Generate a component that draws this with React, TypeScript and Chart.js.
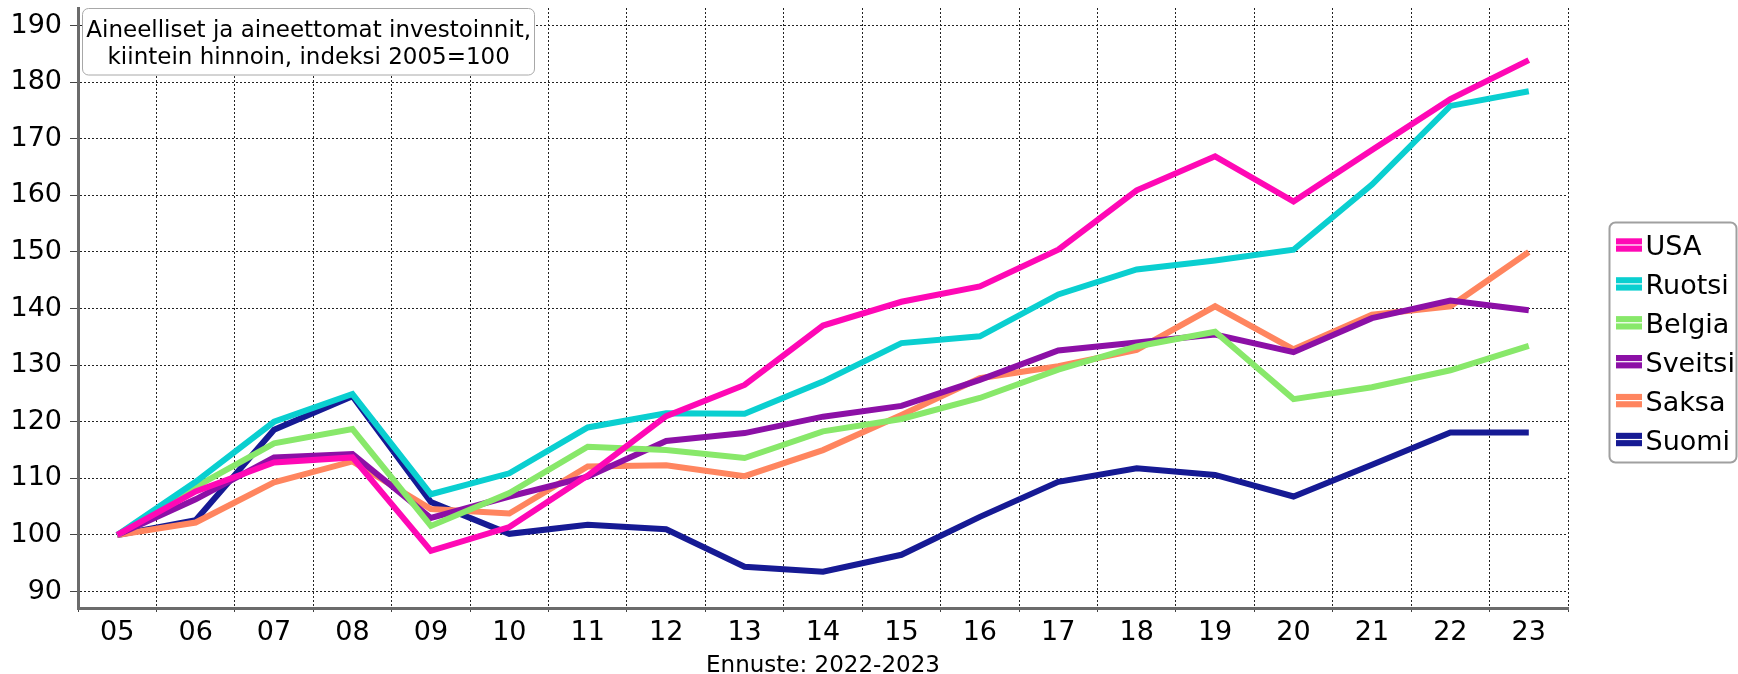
import React, { useEffect, useRef } from 'react';
import { Chart, registerables } from 'chart.js';

Chart.register(...registerables);

const years = ['05', '06', '07', '08', '09', '10', '11', '12', '13', '14', '15', '16', '17', '18', '19', '20', '21', '22', '23'];

const usa = [100, 107.7, 112.8, 113.7, 97.2, 101.4, 110.5, 121.0, 126.5, 137.0, 141.2, 143.9, 150.4, 160.9, 166.9, 158.9, 168.0, 177.0, 183.9];
const ruotsi = [100, 109.4, 120.0, 124.9, 107.2, 110.9, 119.0, 121.5, 121.4, 127.1, 133.9, 135.1, 142.5, 146.9, 148.5, 150.4, 161.9, 175.8, 178.4];
const belgia = [100, 108.5, 116.2, 118.7, 101.6, 107.4, 115.6, 115.0, 113.6, 118.3, 120.5, 124.2, 129.2, 133.3, 135.9, 124.0, 126.1, 129.1, 133.4];
const sveitsi = [100, 106.3, 113.7, 114.3, 103.0, 106.8, 110.3, 116.6, 118.0, 120.9, 122.8, 127.4, 132.6, 134.0, 135.4, 132.3, 138.3, 141.4, 139.7];
const saksa = [100, 102.2, 109.3, 113.0, 104.6, 103.8, 112.1, 112.3, 110.4, 115.0, 121.2, 127.7, 129.8, 132.7, 140.4, 132.8, 138.9, 140.4, 150.0];
const suomi = [100, 102.6, 118.6, 124.5, 105.8, 100.2, 101.8, 101.0, 94.4, 93.5, 96.5, 103.2, 109.4, 111.8, 110.6, 106.8, 112.4, 118.1, 118.1];

const seriesNames = ['USA', 'Ruotsi', 'Belgia', 'Sveitsi', 'Saksa', 'Suomi'];
const seriesColors = ['#ff08b5', '#0acfd0', '#88e86a', '#8c10a6', '#ff855f', '#161a94'];

const yTicks = [90, 100, 110, 120, 130, 140, 150, 160, 170, 180, 190];
const titleLines = ['Aineelliset ja aineettomat investoinnit,', 'kiintein hinnoin, indeksi 2005=100'];
const xTitle = 'Ennuste: 2022-2023';

const FONT = '"DejaVu Sans", Verdana, sans-serif';

function roundRectPath(ctx: CanvasRenderingContext2D, x: number, y: number, w: number, h: number, r: number) {
  ctx.beginPath();
  ctx.moveTo(x + r, y);
  ctx.lineTo(x + w - r, y);
  ctx.arcTo(x + w, y, x + w, y + r, r);
  ctx.lineTo(x + w, y + h - r);
  ctx.arcTo(x + w, y + h, x + w - r, y + h, r);
  ctx.lineTo(x + r, y + h);
  ctx.arcTo(x, y + h, x, y + h - r, r);
  ctx.lineTo(x, y + r);
  ctx.arcTo(x, y, x + r, y, r);
  ctx.closePath();
}

const overlayPlugin = {
  id: 'overlay',
  afterDraw(chart: any) {
    const ctx: CanvasRenderingContext2D = chart.ctx;
    ctx.save();
    // Title box
    roundRectPath(ctx, 82.5, 8.5, 452, 66.5, 6);
    ctx.fillStyle = '#ffffff';
    ctx.fill();
    ctx.strokeStyle = '#a8a8a8';
    ctx.lineWidth = 1;
    ctx.stroke();
    ctx.fillStyle = '#000000';
    ctx.font = `23px ${FONT}`;
    ctx.textAlign = 'center';
    ctx.textBaseline = 'alphabetic';
    ctx.fillText(titleLines[0], 308.7, 37);
    ctx.fillText(titleLines[1], 308.7, 63.5);

    // Legend box
    roundRectPath(ctx, 1609.5, 222.5, 127, 240, 6);
    ctx.fillStyle = '#ffffff';
    ctx.fill();
    ctx.strokeStyle = '#a0a0a0';
    ctx.lineWidth = 2;
    ctx.stroke();
    ctx.font = `27px ${FONT}`;
    ctx.textAlign = 'left';
    chart.data.datasets.forEach((ds: any, i: number) => {
      const cy = 245 + i * 38.9;
      ctx.fillStyle = ds.borderColor;
      ctx.fillRect(1616, cy - 6.7, 26, 13.4);
      ctx.fillStyle = '#ffffff';
      ctx.fillRect(1616, cy - 0.6, 26, 1.2);
      ctx.fillStyle = '#000000';
      ctx.fillText(ds.label, 1645.5, cy + 10);
    });
    ctx.restore();
  },
};

export default function App() {
  const ref = useRef<HTMLCanvasElement | null>(null);
  useEffect(() => {
    if (!ref.current) return;
    const allSeries = [usa, ruotsi, belgia, sveitsi, saksa, suomi];
    const chart = new Chart(ref.current, {
      type: 'line',
      data: {
        labels: years,
        datasets: allSeries.map((d, i) => ({
          label: seriesNames[i],
          data: d,
          borderColor: seriesColors[i],
          backgroundColor: seriesColors[i],
          borderWidth: 6,
          pointRadius: 0,
          pointHoverRadius: 0,
          tension: 0,
          fill: false,
          borderJoinStyle: 'miter' as const,
        })),
      },
      options: {
        responsive: false,
        animation: false,
        devicePixelRatio: 1,
        layout: { padding: { left: 0, right: 170, top: 8, bottom: 0 } },
        plugins: {
          legend: { display: false },
          tooltip: { enabled: false },
          title: { display: false },
        },
        scales: {
          x: {
            type: 'category',
            offset: true,
            grid: {
              offset: true,
              color: '#222222',
              lineWidth: 1,
              tickLength: 4,
              tickColor: '#444444',
              tickWidth: 1,
              drawTicks: true,
            },
            border: { display: true, color: '#6b6b6b', width: 3, dash: [2, 2] },
            ticks: {
              color: '#000000',
              font: { family: FONT, size: 27 },
              padding: 4.5,
              maxRotation: 0,
              autoSkip: false,
            },
            title: {
              display: true,
              text: xTitle,
              color: '#000000',
              font: { family: FONT, size: 23, lineHeight: 0.7 },
              padding: { top: 0, bottom: 0 },
            },
            afterFit: (s: any) => {
              s.height = 66;
              s.paddingLeft = 0;
              s.paddingRight = 0;
            },
          },
          y: {
            min: 87.1,
            max: 193.1,
            grid: {
              color: '#222222',
              lineWidth: 1,
              tickLength: 8,
              tickColor: '#444444',
              tickWidth: 1,
            },
            border: { display: true, color: '#6b6b6b', width: 3, dash: [2, 2] },
            ticks: {
              color: '#000000',
              font: { family: FONT, size: 27 },
              padding: 8,
            },
            afterBuildTicks: (s: any) => {
              s.ticks = yTicks.map((v) => ({ value: v }));
            },
            afterFit: (s: any) => {
              s.width = 78;
              s.paddingTop = 0;
              s.paddingBottom = 0;
            },
          },
        },
      },
      plugins: [overlayPlugin],
    });
    return () => chart.destroy();
  }, []);

  return (
    <div style={{ position: 'absolute', left: 0, top: 0, width: 1738, height: 674 }}>
      <canvas ref={ref} width={1738} height={674} style={{ width: 1738, height: 674, display: 'block' }} />
    </div>
  );
}
